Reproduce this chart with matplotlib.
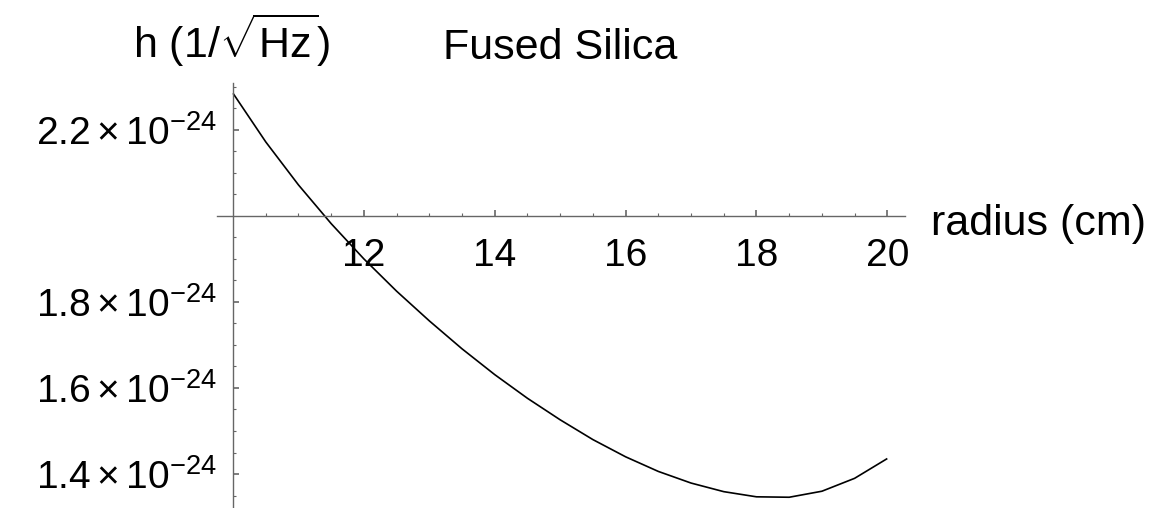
import matplotlib
matplotlib.use("Agg")
import matplotlib.pyplot as plt
from matplotlib.ticker import FixedLocator, FixedFormatter
import numpy as np

plt.rcParams["font.family"] = ["Liberation Sans", "DejaVu Sans"]
plt.rcParams["mathtext.fontset"] = "custom"
plt.rcParams["mathtext.rm"] = "Liberation Sans"
plt.rcParams["mathtext.it"] = "Liberation Sans"
plt.rcParams["mathtext.bf"] = "Liberation Sans:bold"

# strain noise h vs. mirror radius, fused silica (units of 1e-24 /sqrt(Hz))
radius_cm = [10.0, 10.5, 11.0, 11.5, 12.0, 12.5, 13.0, 13.5, 14.0, 14.5, 15.0,
             15.5, 16.0, 16.5, 17.0, 17.5, 18.0, 18.5, 19.0, 19.5, 20.0]
h_noise = [2.285, 2.172, 2.072, 1.982, 1.900, 1.825, 1.756, 1.691, 1.631, 1.576,
           1.526, 1.480, 1.440, 1.406, 1.379, 1.359, 1.347, 1.346, 1.360, 1.390,
           1.436]

x_major = [12, 14, 16, 18, 20]
x_labels = ["12", "14", "16", "18", "20"]
y_major = [1.4, 1.6, 1.8, 2.2]
y_labels = [r"$1.4\times10^{-24}$", r"$1.6\times10^{-24}$",
            r"$1.8\times10^{-24}$", r"$2.2\times10^{-24}$"]

W, H = 1154, 508
fig = plt.figure(figsize=(W / 100, H / 100), dpi=100)
ax = fig.add_axes([216.7 / W, 0.0, (905 - 216.7) / W, (508 - 83) / H])

ax.plot(radius_cm, h_noise, color="black", lw=1.2,
        solid_joinstyle="round", solid_capstyle="butt")

ax.set_xlim(9.75, 20.27)
ax.set_ylim(1.321, 2.309)

# axes cross at (10, 2.0) like a Mathematica plot
for side in ("top", "right"):
    ax.spines[side].set_visible(False)
ax.spines["left"].set_position(("data", 10))
ax.spines["bottom"].set_position(("data", 2.0))
for side in ("left", "bottom"):
    ax.spines[side].set_color("#666666")
    ax.spines[side].set_linewidth(1.0)

ax.xaxis.set_major_locator(FixedLocator(x_major))
ax.xaxis.set_major_formatter(FixedFormatter(x_labels))
ax.xaxis.set_minor_locator(FixedLocator(
    [v for v in np.arange(10.5, 20.01, 0.5) if v not in x_major]))
ax.yaxis.set_major_locator(FixedLocator(y_major))
ax.yaxis.set_major_formatter(FixedFormatter(y_labels))
ax.yaxis.set_minor_locator(FixedLocator(
    [round(v, 2) for v in np.arange(1.35, 2.31, 0.05)
     if round(v, 2) not in y_major and abs(v - 2.0) > 1e-6]))

ax.tick_params(axis="both", which="both", direction="in", color="#666666",
               labelsize=28, labelcolor="black")
ax.tick_params(axis="both", which="major", length=4, width=1.2)
ax.tick_params(axis="both", which="minor", length=2, width=0.8)
ax.tick_params(axis="x", which="major", pad=16)
ax.tick_params(axis="y", which="major", pad=12)

fig.text(133 / W, 1 - 40 / H, r"h $(1/\sqrt{\mathrm{Hz}})$", fontsize=31,
         ha="left", va="center")
fig.text(560 / W, 1 - 48 / H, "Fused Silica", fontsize=31,
         ha="center", va="center")
fig.text(931 / W, 1 - 224 / H, "radius (cm)", fontsize=31,
         ha="left", va="center")

fig.savefig("out.png", dpi=100)
